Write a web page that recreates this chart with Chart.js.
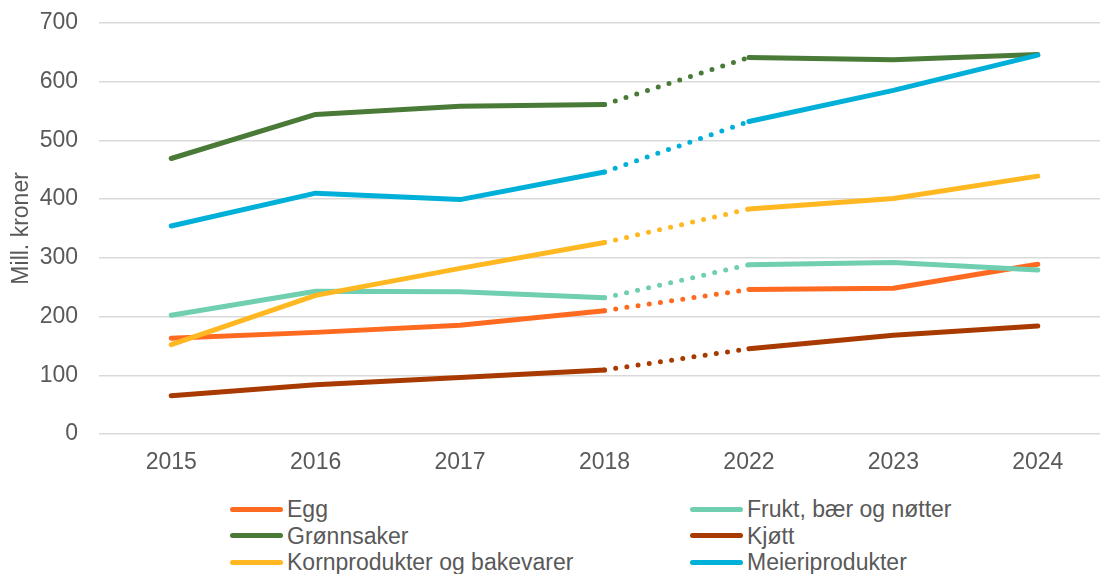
<!DOCTYPE html>
<html>
<head>
<meta charset="utf-8">
<script src="https://cdn.jsdelivr.net/npm/chart.js@4.4.1/dist/chart.umd.min.js"></script>
<style>
  html, body { margin: 0; padding: 0; background: #fff; overflow: hidden; }
  #wrap { position: relative; width: 1100px; height: 574px; overflow: hidden; }
  #chart { position: absolute; left: 0; top: -12px; }
  #legend {
    position: absolute; left: 230px; top: 496px;
    display: grid; grid-template-columns: 460px 300px;
    font-family: "Liberation Sans", Arial, sans-serif; font-size: 23px; color: #595959;
    line-height: 26.5px;
  }
  .item { display: flex; align-items: center; white-space: nowrap; }
  .swatch { width: 53px; height: 5px; border-radius: 3px; margin-right: 4px; }
</style>
</head>
<body>
<div id="wrap">
  <canvas id="chart" width="1110" height="502"></canvas>
  <div id="legend"></div>
</div>
<script>
// data
const years = ['2015', '2016', '2017', '2018', '2022', '2023', '2024'];
const egg = [163, 173, 185, 210, 246, 248, 289];
const frukt = [202, 243, 242, 232, 288, 292, 279];
const gronnsaker = [469, 544, 558, 561, 641, 637, 646];
const kjott = [65, 84, 96, 109, 145, 168, 184];
const korn = [152, 236, 282, 326, 383, 401, 439];
const meieri = [354, 410, 399, 446, 532, 585, 645];

const seriesNames = ['Egg', 'Frukt, bær og nøtter', 'Grønnsaker', 'Kjøtt', 'Kornprodukter og bakevarer', 'Meieriprodukter'];
const seriesValues = [egg, frukt, gronnsaker, kjott, korn, meieri];
const seriesColors = ['#ff6a21', '#6fcfb0', '#4a7a38', '#a83a00', '#ffb822', '#00b0d8'];

const font = { family: '"Liberation Sans", Arial, sans-serif', size: 23 };
const grey = '#595959';

// the gap 2018 -> 2022 is drawn dotted
const gapDash = ctx => ctx.p0DataIndex === 3 ? [0, 11.3] : undefined;

const datasets = seriesNames.map((name, i) => ({
  label: name,
  data: seriesValues[i],
  borderColor: seriesColors[i],
  backgroundColor: seriesColors[i],
  borderWidth: 5,
  borderCapStyle: 'round',
  borderJoinStyle: 'round',
  pointRadius: 0,
  tension: 0,
  order: seriesNames.length - i, // later series on top, like the original
  segment: { borderDash: gapDash }
}));

const ctx = document.getElementById('chart').getContext('2d');
new Chart(ctx, {
  type: 'line',
  data: { labels: years, datasets: datasets },
  options: {
    responsive: false,
    animation: false,
    layout: { padding: { top: 11, right: 0, left: 0, bottom: 0 } },
    plugins: {
      legend: { display: false },
      tooltip: { enabled: false }
    },
    scales: {
      x: {
        offset: true,
        grid: { display: false, drawTicks: false },
        border: { display: false },
        ticks: { color: grey, font: font, padding: 15, maxRotation: 0 },
        afterFit: scale => { scale.height = 56; }
      },
      y: {
        min: 0,
        max: 700,
        grid: { color: '#d9d9d9', lineWidth: 1.5, drawTicks: false },
        border: { display: false },
        ticks: { stepSize: 100, color: grey, font: font, padding: 21 },
        title: {
          display: true,
          text: 'Mill. kroner',
          color: grey,
          font: font,
          padding: { top: 8, bottom: 0 }
        },
        afterFit: scale => { scale.width = 99; }
      }
    }
  }
});

// two-column legend under the chart
const legend = document.getElementById('legend');
seriesNames.forEach((name, i) => {
  const item = document.createElement('div');
  item.className = 'item';
  const sw = document.createElement('span');
  sw.className = 'swatch';
  sw.style.background = seriesColors[i];
  const txt = document.createElement('span');
  txt.textContent = name;
  item.appendChild(sw);
  item.appendChild(txt);
  legend.appendChild(item);
});
</script>
</body>
</html>
